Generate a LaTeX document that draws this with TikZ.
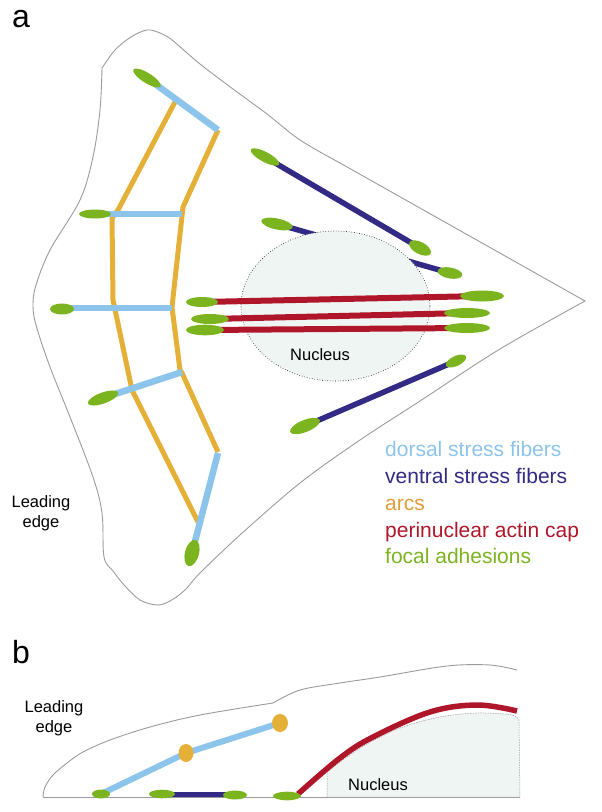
\documentclass[tikz,border=0pt]{standalone}
\usepackage{fontspec}
\setmainfont{Liberation Sans}
\definecolor{dorsalc}{RGB}{140,196,236}
\definecolor{ventralc}{RGB}{50,42,132}
\definecolor{arcc}{RGB}{229,176,56}
\definecolor{arctext}{RGB}{226,156,58}
\definecolor{capc}{RGB}{176,22,42}
\definecolor{fac}{RGB}{124,180,32}
\definecolor{nucc}{RGB}{238,245,242}
\definecolor{cellc}{RGB}{155,155,155}
\begin{document}
\begin{tikzpicture}[x=1pt,y=-1pt,
  cellline/.style={draw=cellc,line width=0.9pt},
  dorsalfib/.style={dorsalc,line width=6.5pt},
  ventralfib/.style={ventralc,line width=5.5pt},
  arcfib/.style={arcc,line width=5pt,line join=round},
  capfib/.style={capc,line width=6pt},
  adhesion/.style={fill=fac},
  panel/.style={font=\fontsize{32}{38}\selectfont,anchor=base west,inner sep=0pt},
  label/.style={font=\fontsize{16.5}{20}\selectfont,align=center,inner sep=0pt},
  legend/.style={font=\fontsize{21}{25}\selectfont,anchor=base west,inner sep=0pt}]
  \useasboundingbox (0,0) rectangle (602,812);
  % panel a: cell outline
  \draw[cellline] plot[smooth,tension=0.55] coordinates {(102,68) (115,50)
      (131,37) (147,30) (160,33) (172,40) (200,64) (233,89) (267,114)
      (300,140) (340,163)}
    -- (585,301)
    -- plot[smooth,tension=0.55] coordinates {(585,301) (500,349) (420,401)
      (360,440) (300,483) (240,535) (200,573) (185,590) (170,601) (157,605)
      (140,600) (125,586) (113,571) (104,557) (102,513) (93,477) (70,417)
      (50,367) (36,325) (33,305) (36,285) (50,250) (80,200) (93,157)
      (100,110) (102,68)};
  % arcs
  \draw[arcfib] (175,102) -- (118,210) -- (112,218) -- (113,300)
    -- (132,390) -- (137,400) -- (198,522);
  \draw[arcfib] (218,130) -- (183,207) -- (182,216) -- (172,307)
    -- (180,370) -- (182,373) -- (218,452);
  % dorsal stress fibers
  \draw[dorsalfib] (147,78) -- (218,130);
  \draw[dorsalfib] (95,214) -- (182,214);
  \draw[dorsalfib] (62,308) -- (172,308);
  \draw[dorsalfib] (103,398) -- (182,372);
  \draw[dorsalfib] (218,453) -- (192,553);
  % ventral stress fibers
  \draw[ventralfib] (265,157) -- (420,248);
  \draw[ventralfib] (277,224) -- (450,273);
  \draw[ventralfib] (305,426) -- (456,361);
  % nucleus
  \filldraw[fill=nucc,draw=black,dotted,line width=0.6pt]
    (335.5,306) ellipse (94.5pt and 75pt);
  \node[label] (nuca) at (320,355) {Nucleus};
  % perinuclear actin cap
  \draw[capfib] (202,302) -- (482,296);
  \draw[capfib] (210,319) -- (467,313);
  \draw[capfib] (205,330) -- (467,328);
  % focal adhesions
  \fill[adhesion,rotate around={-32:(147,78)}] (147,78) ellipse (16pt and 5pt);
  \fill[adhesion] (95,214) ellipse (16pt and 4.5pt);
  \fill[adhesion] (62,309) ellipse (12pt and 5.5pt);
  \fill[adhesion,rotate around={20:(103,398)}] (103,398) ellipse (16pt and 5.5pt);
  \fill[adhesion,rotate around={75:(192,553)}] (192,553) ellipse (13.5pt and 7pt);
  \fill[adhesion,rotate around={-28:(265,157)}] (265,157) ellipse (16pt and 5pt);
  \fill[adhesion,rotate around={-28:(420,248)}] (420,248) ellipse (12pt and 6pt);
  \fill[adhesion,rotate around={-12:(277,224)}] (277,224) ellipse (16pt and 5.5pt);
  \fill[adhesion,rotate around={-10:(450,273)}] (450,273) ellipse (12.5pt and 5.5pt);
  \fill[adhesion,rotate around={22:(305,426)}] (305,426) ellipse (16pt and 6pt);
  \fill[adhesion,rotate around={25:(456,361)}] (456,361) ellipse (11pt and 5pt);
  \fill[adhesion] (202,302) ellipse (16pt and 5pt);
  \fill[adhesion] (482,296) ellipse (22pt and 5.5pt);
  \fill[adhesion] (210,319) ellipse (19pt and 5pt);
  \fill[adhesion] (467,313) ellipse (23pt and 5pt);
  \fill[adhesion] (205,330) ellipse (19pt and 5.3pt);
  \fill[adhesion] (467,328) ellipse (23pt and 5pt);
  % labels panel a
  \node[panel] (pa) at (12,27) {a};
  \node[label] (leada) at (41,513) {Leading\\edge};
  \node[legend,text=dorsalc] (ld) at (385,456) {dorsal stress fibers};
  \node[legend,text=ventralc] (lv) at (385,483) {ventral stress fibers};
  \node[legend,text=arctext] (la) at (385,510) {arcs};
  \node[legend,text=capc] (lc) at (385,537) {perinuclear actin cap};
  \node[legend,text=fac] (lf) at (385,563) {focal adhesions};
  % panel b
  \node[panel] (pb) at (12,663) {b};
  \node[label] (leadb) at (54,718) {Leading\\edge};
  \draw[cellline] plot[smooth,tension=0.55] coordinates {(43,797) (45,787)
      (53,775) (67,763) (83,752) (110,740) (150,727) (200,715) (273,703)}
    -- plot[smooth,tension=0.55] coordinates {(273,703) (300,690) (340,683)
      (380,677) (447,666) (490,665) (517,670)};
  \draw[cellline] (43,797) -- (520,797);
  \filldraw[fill=nucc,draw=cellc,dashed,line width=0.5pt,dash pattern=on 1.5pt off 1pt]
    (327,797) -- (327,772)
    -- plot[smooth,tension=0.55] coordinates {(327,772) (360,748) (400,728)
      (440,717) (477,713) (512,715) (519,721)}
    -- (520,797) -- cycle;
  \node[label] (nucb) at (378,785) {Nucleus};
  \draw[dorsalfib,line width=6pt,line join=round] (101,794) -- (186,753) -- (280,723);
  \draw[ventralfib,line width=5pt] (162,794) -- (235,794);
  \draw[capfib,line width=5.5pt] plot[smooth,tension=0.6] coordinates {(298,794)
      (340,758) (373,737) (430,712) (477,705) (517,711)};
  \fill[arcc] (186,753) ellipse (7.5pt and 9pt);
  \fill[arcc] (280,723) ellipse (8pt and 9pt);
  \fill[adhesion] (101,794) ellipse (9pt and 4.5pt);
  \fill[adhesion] (162,794) ellipse (13pt and 4.3pt);
  \fill[adhesion] (235,795) ellipse (12pt and 4.5pt);
  \fill[adhesion] (287,796) ellipse (14pt and 4.3pt);
\end{tikzpicture}
\end{document}
